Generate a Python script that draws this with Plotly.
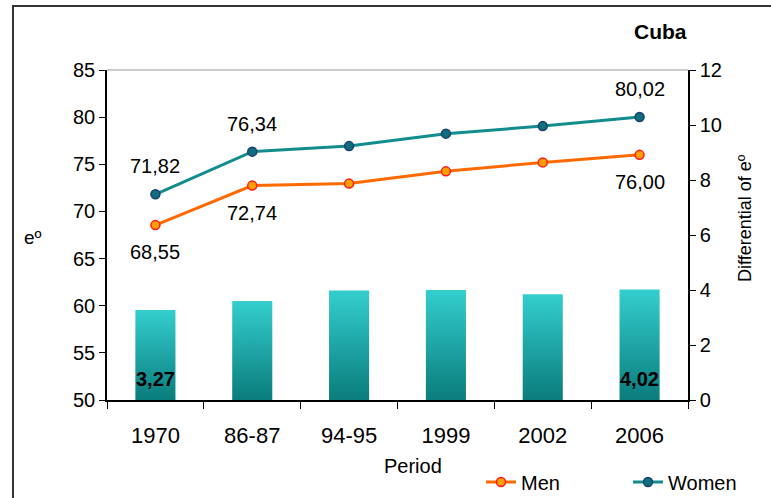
import plotly.graph_objects as go

# Life expectancy at birth (eº) by period, Cuba
periods = ["1970", "86-87", "94-95", "1999", "2002", "2006"]
men = [68.55, 72.74, 72.95, 74.25, 75.20, 76.00]
women = [71.82, 76.34, 76.93, 78.25, 79.05, 80.02]
# Differential of eº (women minus men)
differential = [round(w - m, 2) for w, m in zip(women, men)]

# Which points carry a value label
labelled = [0, 1, 5]

FONT = "Arial, Liberation Sans, sans-serif"
MEN_LINE, MEN_FILL, MEN_EDGE = "#FF6A00", "#FFA000", "#FF1A1A"
WOMEN_LINE, WOMEN_FILL, WOMEN_EDGE = "#128C8C", "#0E6E7C", "#1B3F70"
BAR_TOP, BAR_BOTTOM = "#34CECE", "#0A7C7C"

W, H = 771, 498
L, R, T, B = 107, 83, 70, 98
PW, PH = W - L - R, H - T - B

def fmt(v):
    return f"{v:.2f}".replace(".", ",")

def px(x):
    return (x - L) / PW

def py(y):
    return (H - B - y) / PH

xs = list(range(len(periods)))
half = 0.207

fig = go.Figure()

# Differential bars (vertical gradient fill) on the right axis
for i, d in zip(xs, differential):
    fig.add_trace(go.Scatter(
        x=[i - half, i + half, i + half, i - half, i - half],
        y=[0, 0, d, d, 0],
        mode="lines", fill="toself", line=dict(width=0),
        fillgradient=dict(type="vertical",
                          colorscale=[[0, BAR_BOTTOM], [1, BAR_TOP]]),
        yaxis="y2", showlegend=False, hoverinfo="skip",
    ))

fig.add_trace(go.Scatter(
    x=xs, y=men, name="Men", mode="lines+markers",
    line=dict(color=MEN_LINE, width=3),
    marker=dict(size=9, color=MEN_FILL, line=dict(color=MEN_EDGE, width=1.5)),
))
fig.add_trace(go.Scatter(
    x=xs, y=women, name="Women", mode="lines+markers",
    line=dict(color=WOMEN_LINE, width=3),
    marker=dict(size=9, color=WOMEN_FILL, line=dict(color=WOMEN_EDGE, width=1.5)),
))

annotations = []
for i in labelled:
    annotations.append(dict(x=i, y=women[i], xref="x", yref="y", text=fmt(women[i]),
                            showarrow=False, yshift=28, xanchor="center", yanchor="middle",
                            font=dict(size=20, color="black")))
    annotations.append(dict(x=i, y=men[i], xref="x", yref="y", text=fmt(men[i]),
                            showarrow=False, yshift=-27, xanchor="center", yanchor="middle",
                            font=dict(size=20, color="black")))
for i in (0, len(periods) - 1):
    annotations.append(dict(x=i, y=0, xref="x", yref="y2", text=f"<b>{fmt(differential[i])}</b>",
                            showarrow=False, yshift=21, xanchor="center", yanchor="middle",
                            font=dict(size=20, color="black")))

annotations += [
    dict(x=px(660), y=py(31), xref="paper", yref="paper", xanchor="center", yanchor="middle",
         text="<b>Cuba</b>", showarrow=False, font=dict(size=21, color="black")),
    dict(x=px(413), y=py(466), xref="paper", yref="paper", xanchor="center", yanchor="middle",
         text="Period", showarrow=False, font=dict(size=20, color="black")),
    dict(x=px(33), y=py(237), xref="paper", yref="paper", xanchor="center", yanchor="middle",
         text="eº", showarrow=False, font=dict(size=19, color="black")),
    dict(x=px(745), y=py(218), xref="paper", yref="paper", xanchor="center", yanchor="middle",
         text="Differential of eº", textangle=-90, showarrow=False,
         font=dict(size=18, color="black")),
]

shapes = [
    # outer frame
    dict(type="rect", xref="paper", yref="paper",
         x0=px(13), x1=px(790), y0=py(520), y1=py(6),
         line=dict(color="#333333", width=2), layer="below"),
    # top edge of the plot area
    dict(type="line", xref="paper", yref="paper", x0=0, x1=1, y0=1, y1=1,
         line=dict(color="#9A9A9A", width=1.2)),
]

fig.update_layout(
    width=W, height=H,
    margin=dict(l=L, r=R, t=T, b=B, autoexpand=False),
    paper_bgcolor="white", plot_bgcolor="white",
    font=dict(family=FONT, color="black"),
    xaxis=dict(
        range=[-0.5, len(periods) - 0.5], tickmode="array", tickvals=xs, ticktext=periods,
        ticks="", showline=True, linecolor="black", linewidth=1.5, automargin=False,
        showgrid=False, zeroline=False, tickfont=dict(size=22),
        ticklabelstandoff=15,
        minor=dict(tickmode="array", tickvals=[i - 0.5 for i in range(len(periods) + 1)],
                   ticks="outside", ticklen=7, tickcolor="black", tickwidth=1.2, showgrid=False),
    ),
    yaxis=dict(
        range=[50, 85], dtick=5, ticks="outside", ticklen=6, tickcolor="black",
        showline=True, linecolor="black", linewidth=1.5, showgrid=False, zeroline=False,
        tickfont=dict(size=20), automargin=False,
    ),
    yaxis2=dict(
        range=[0, 12], dtick=2, overlaying="y", side="right", ticks="outside", ticklen=6,
        tickcolor="black", showline=True, linecolor="black", linewidth=1.5,
        showgrid=False, zeroline=False, tickfont=dict(size=20), automargin=False,
    ),
    legend=dict(
        orientation="h", xref="container", yref="container",
        x=481 / W, y=(H - 482) / H,
        xanchor="left", yanchor="middle", font=dict(size=20),
        entrywidth=102, entrywidthmode="pixels", bgcolor="rgba(0,0,0,0)",
    ),
    annotations=annotations,
    shapes=shapes,
)

fig.write_html("out.html")
